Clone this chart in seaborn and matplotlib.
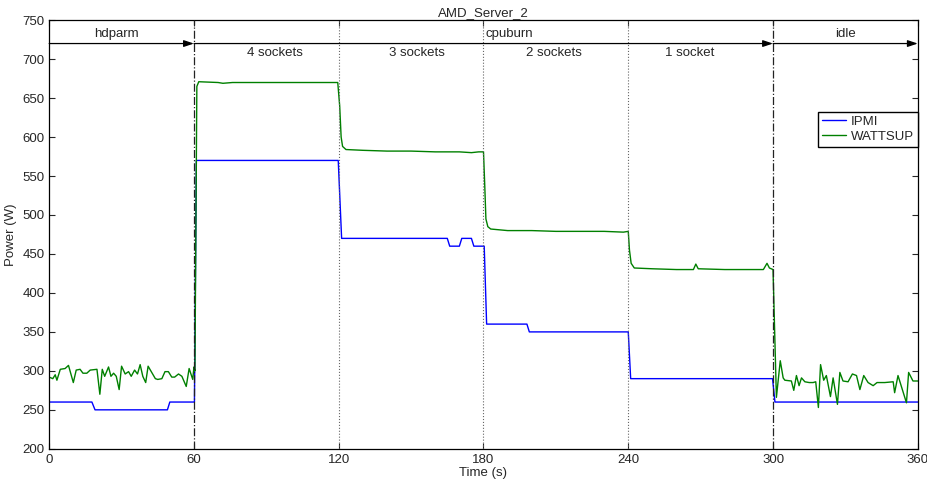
import numpy as np
import pandas as pd
import seaborn as sns
import matplotlib
matplotlib.use("Agg")
import matplotlib.pyplot as plt

# IPMI readings (step-like)
ipmi_t = [0, 17.7, 19, 49, 50, 60.2, 61, 119.8, 121.2, 165, 166, 170, 171, 175, 176,
          180.3, 181.3, 198, 199, 240, 241, 299.8, 300.8, 360]
ipmi_w = [260, 260, 250, 250, 260, 260, 570, 570, 470, 470, 460, 460, 470, 470, 460,
          460, 360, 360, 350, 350, 290, 290, 260, 260]

# WATTSUP readings
watts_t = [0, 1.5, 2.5, 3.2, 4.6, 6.6, 8, 10, 11.2, 12.8, 14, 15.6, 17, 19.8, 21, 22, 23,
           24.6, 25.6, 26.7, 27.8, 29, 30, 31.5, 32.9, 34, 35.4, 36.6, 37.7, 38.8, 40, 41,
           42.5, 44, 45, 46.7, 48, 49.4, 50.8, 52, 53.6, 55, 56.8, 58, 59.5, 60,
           60.4, 61.2, 62, 70, 72, 76, 90, 110, 119.6, 120.4, 121, 121.6, 123, 130, 140,
           150, 160, 170, 175, 178, 180, 180.5, 181, 181.8, 183, 190, 200, 210, 220, 230,
           238, 240, 240.5, 241.2, 242.5, 250, 260, 267, 268, 269, 280, 290, 296, 297.5,
           298.5, 300, 301.4,
           303, 304.2, 304.9, 307.6, 308.6, 309.7, 310.8, 311.8, 313.2, 315, 316.6, 317.7,
           318.8, 319.7, 321, 322.1, 323.8, 324.9, 326.7, 327.7, 329, 331.1, 332.9, 334.6,
           336, 337.6, 339.4, 341.5, 343.1, 346.3, 349.8, 350.4, 351.8, 355.3, 356.2, 358, 360]
watts_w = [292, 290, 295, 288, 302, 303, 307, 285, 301, 302, 297, 297, 301, 302, 270, 302, 293,
           305, 293, 297, 293, 276, 306, 296, 299, 293, 301, 296, 308, 293, 285, 306,
           298, 290, 289, 290, 299, 299, 292, 292, 296, 293, 280, 303, 289, 305,
           300, 665, 671, 670, 669, 670, 670, 670, 670, 640, 600, 588, 584, 583, 582,
           582, 581, 581, 580, 581, 581, 540, 495, 485, 482, 480, 480, 479, 479, 479,
           478, 479, 455, 438, 432, 431, 430, 430, 437, 431, 430, 430, 430, 438,
           432, 430, 266,
           313, 291, 288, 287, 275, 294, 281, 291, 286, 285, 285, 286,
           253, 308, 288, 294, 267, 291, 257, 298, 287, 286, 296, 294,
           276, 294, 285, 281, 285, 285, 286, 272, 294, 259, 298, 287, 287]

# phase annotations
phase_names = ["hdparm", "cpuburn", "idle"]
phase_start = [0, 60, 300]
phase_end = [60, 300, 360]
phase_label_x = [28, 190.5, 330]
socket_names = ["4 sockets", "3 sockets", "2 sockets", "1 socket"]
socket_x = [93.5, 152.5, 209, 265.5]

sns.set_style("ticks")
plt.rcParams["font.family"] = ["Liberation Sans", "DejaVu Sans"]

df = pd.concat([
    pd.DataFrame({"time": ipmi_t, "power": ipmi_w, "meter": "IPMI"}),
    pd.DataFrame({"time": watts_t, "power": watts_w, "meter": "WATTSUP"}),
], ignore_index=True)

fig = plt.figure(figsize=(9.28, 4.8), dpi=100)
ax = fig.add_axes([0.053, 0.065, 0.936, 0.893])

sns.lineplot(data=df, x="time", y="power", hue="meter",
             palette={"IPMI": "#0000ff", "WATTSUP": "#008000"},
             estimator=None, sort=False, linewidth=1.0, ax=ax)

# phase boundaries
for xv in [60, 300]:
    ax.axvline(xv, color="#222222", linestyle="-.", linewidth=0.9, zorder=3)
for xv in [120, 180, 240]:
    ax.axvline(xv, color="#666666", linestyle=":", linewidth=0.8, zorder=3)

# arrows and labels
for name, s, e, lx in zip(phase_names, phase_start, phase_end, phase_label_x):
    ax.annotate("", xy=(e, 720), xytext=(s, 720),
                arrowprops=dict(arrowstyle="-|>,head_length=0.6,head_width=0.2",
                                color="black", lw=0.9, shrinkA=0, shrinkB=0))
    ax.text(lx, 724, name, ha="center", va="bottom", fontsize=9.5)
for name, sx in zip(socket_names, socket_x):
    ax.text(sx, 716, name, ha="center", va="top", fontsize=9.5)

ax.set_xlim(0, 360)
ax.set_ylim(200, 750)
ax.set_xticks(np.arange(0, 361, 60))
ax.set_yticks(np.arange(200, 751, 50))
ax.tick_params(direction="in", top=True, right=True, length=4, width=0.8, labelsize=9.5)
for sp in ax.spines.values():
    sp.set_linewidth(0.9)
    sp.set_color("black")

ax.set_xlabel("Time (s)", fontsize=9.5, labelpad=1)
ax.set_ylabel("Power (W)", fontsize=9.5, labelpad=4)
ax.set_title("AMD_Server_2", fontsize=9.5, pad=3)

ax.legend(loc="upper right", bbox_to_anchor=(1.0, 0.786), borderaxespad=0,
          fancybox=False, edgecolor="black", framealpha=1, fontsize=9.5,
          handlelength=1.8, handletextpad=0.35, borderpad=0.3, labelspacing=0.2)

fig.savefig("out.png", dpi=100)
